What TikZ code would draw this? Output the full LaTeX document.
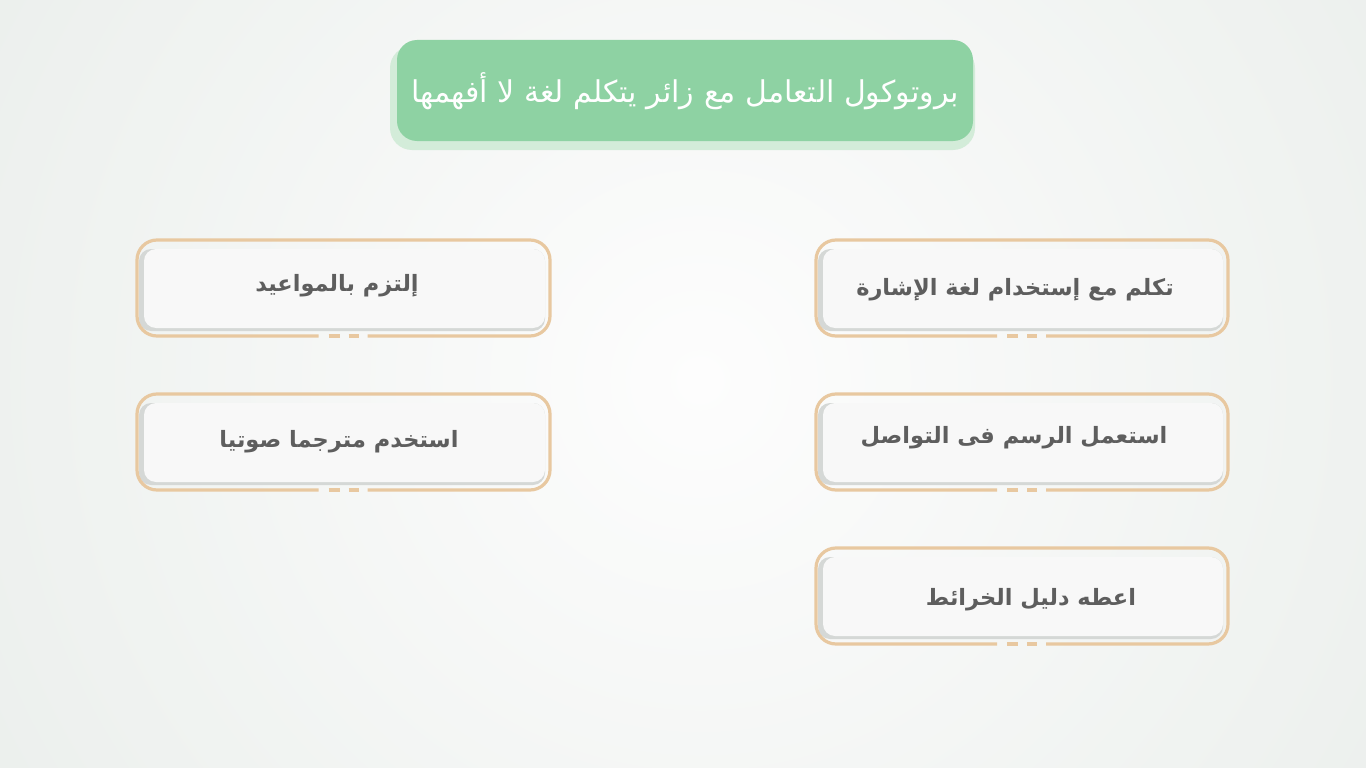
\documentclass[tikz,border=0pt]{standalone}
\usepackage{fontspec}
\newfontfamily\arabicfont[Script=Arabic]{DejaVu Sans}
\TeXXeTstate=1
\definecolor{bgedge}{HTML}{DDE4DF}
\definecolor{bgmid}{HTML}{FDFDFD}
\definecolor{titlegreen}{HTML}{8ED2A3}
\definecolor{titleshadow}{HTML}{D3ECD9}
\definecolor{cardline}{HTML}{E8C8A0}
\definecolor{cardfill}{HTML}{F8F8F8}
\definecolor{cardshadow}{HTML}{D5D8D6}
\definecolor{cardtext}{HTML}{5E5E5E}
\tikzset{
  titlebox/.style={fill=titlegreen, rounded corners=20pt},
  titleshade/.style={fill=titleshadow, rounded corners=22pt},
  cardframe/.style={draw=cardline, line width=3.2pt, rounded corners=20pt},
  cardinner/.style={fill=cardfill, rounded corners=12pt},
  cardshade/.style={fill=cardshadow, rounded corners=12pt},
  cardlabel/.style={text=cardtext, font=\arabicfont\bfseries\fontsize{22.5}{26}\selectfont},
  titlelabel/.style={text=white, font=\arabicfont\fontsize{30}{33}\selectfont},
  gapline/.style={draw=cardline, line width=3.2pt}
}
\newcommand{\card}[5]{% x0, y0, x1, y1
  \path[cardshade] (#1+2,#2+9) rectangle (#3-5,#4-5);
  \path[cardinner] (#1+7,#2+9) rectangle (#3-5,#4-8);
  \path[cardframe] ({(#1+#3)/2-25},#4) -- (#1,#4) -- (#1,#2) -- (#3,#2) -- (#3,#4) -- ({(#1+#3)/2+24},#4);
  \draw[gapline] ({(#1+#3)/2-15},#4) -- ({(#1+#3)/2-4},#4);
  \draw[gapline] ({(#1+#3)/2+5},#4) -- ({(#1+#3)/2+15},#4);
}
\begin{document}
\begin{tikzpicture}[x=1pt,y=-1pt]
\useasboundingbox (0,0) rectangle (1366,768);
\begin{scope}
\clip (0,0) rectangle (1366,768);
\fill[bgedge] (0,0) rectangle (1366,768);
\shade[inner color=bgmid, outer color=bgedge] (700,380) circle (1500);
\end{scope}
% title
\path[titleshade] (390,46) rectangle (975,150);
\path[titlebox] (397,40) rectangle (973,141);
\node[titlelabel] (title) at (685,91) {\beginR بروتوكول التعامل مع زائر يتكلم لغة لا أفهمها\endR};
% cards
\card{137}{240}{550}{336}{}
\card{137}{394}{550}{490}{}
\card{816}{240}{1228}{336}{}
\card{816}{394}{1228}{490}{}
\card{816}{548}{1228}{644}{}
\node[cardlabel] (l1text) at (337,286) {\beginR إلتزم بالمواعيد\endR};
\node[cardlabel] (l2text) at (339,442) {\beginR استخدم مترجما صوتيا\endR};
\node[cardlabel] (r1text) at (1015,290) {\beginR تكلم مع إستخدام لغة الإشارة\endR};
\node[cardlabel] (r2text) at (1014,438) {\beginR استعمل الرسم فى التواصل\endR};
\node[cardlabel] (r3text) at (1031,600) {\beginR اعطه دليل الخرائط\endR};
\end{tikzpicture}
\end{document}
